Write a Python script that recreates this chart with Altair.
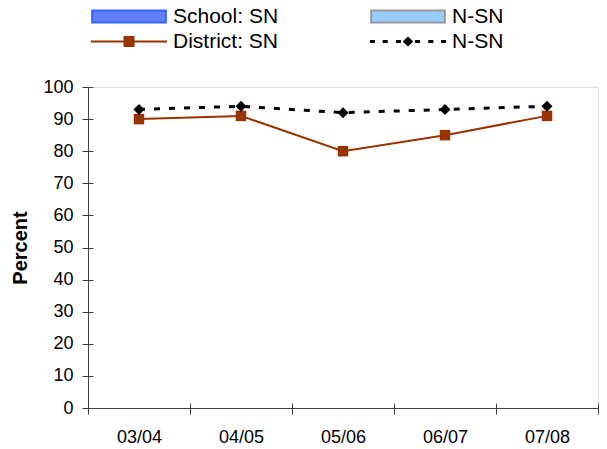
import altair as alt
import pandas as pd

years = ["03/04", "04/05", "05/06", "06/07", "07/08"]
district_sn = [90, 91, 80, 85, 91]
district_nsn = [93, 94, 92, 93, 94]
y_ticks = [0, 10, 20, 30, 40, 50, 60, 70, 80, 90, 100]
# legend order (filled column by column: left column, then right column)
legend_series = ["School: SN", "District: SN", "School: N-SN", "District: N-SN"]

df = pd.DataFrame({
    "year": years * 2,
    "series": ["District: SN"] * len(years) + ["District: N-SN"] * len(years),
    "value": district_sn + district_nsn,
})
legend_df = pd.DataFrame({"series": legend_series, "year": years[0], "value": 0})
base_df = pd.DataFrame({"value": [0]})

FONT = "Liberation Sans"
AXIS_COLOR = "#404040"

# legend symbol paths (unit box, scaled by sqrt(symbolSize)/2)
rect_path = "M-0.97,-0.158H0.97V0.158H-0.97Z"
line_sq_path = "M-1,-0.026H1V0.026H-1Z M-0.145,-0.145H0.145V0.145H-0.145Z"
dash_segs = [(-1, -0.868), (-0.666, -0.534), (-0.316, -0.184), (0.184, 0.316), (0.534, 0.666), (0.868, 1)]
dash_path = " ".join(f"M{a},-0.04H{b}V0.04H{a}Z" for a, b in dash_segs)
dash_path += " M0,-0.13L0.14,0L0,0.13L-0.14,0Z"

x_enc = alt.X(
    "year:N",
    sort=years,
    bandPosition=0.5,
    scale=alt.Scale(type="band", domain=years, paddingInner=0, paddingOuter=0),
    axis=alt.Axis(
        title=None, labelAngle=0, tickBand="extent", offset=-5, tickSize=11,
        domain=False, grid=False, labelPadding=14, labelFont=FONT, labelFontSize=18,
        labelColor="black", tickColor=AXIS_COLOR, tickWidth=1,
    ),
)
y_enc = alt.Y(
    "value:Q",
    scale=alt.Scale(domain=[0, 100], nice=False, zero=True),
    axis=alt.Axis(
        values=y_ticks, title="Percent", offset=-5, tickSize=11, domain=False,
        grid=False, labelPadding=9, labelFont=FONT, labelFontSize=18,
        labelColor="black", tickColor=AXIS_COLOR, tickWidth=1,
        titleFont=FONT, titleFontSize=20, titleFontWeight="bold",
        titleColor="black", titlePadding=12,
    ),
)

base = alt.Chart(df)

sn_line = base.transform_filter(alt.datum.series == "District: SN").mark_line(
    color="#993300", strokeWidth=2
).encode(x=x_enc, y=y_enc)
sn_pts = base.transform_filter(alt.datum.series == "District: SN").mark_point(
    shape="square", filled=True, size=110, color="#993300", opacity=1
).encode(x=x_enc, y=y_enc)
nsn_line = base.transform_filter(alt.datum.series == "District: N-SN").mark_line(
    color="black", strokeWidth=3, strokeDash=[6, 9]
).encode(x=x_enc, y=y_enc)
nsn_pts = base.transform_filter(alt.datum.series == "District: N-SN").mark_point(
    shape="diamond", filled=True, size=120, color="black", opacity=1
).encode(x=x_enc, y=y_enc)

# axis base lines (the ticks cross them)
x_domain = alt.Chart(base_df).mark_rule(color=AXIS_COLOR, strokeWidth=1, yOffset=0.5).encode(y=y_enc)
y_domain = alt.Chart(base_df).mark_rule(color=AXIS_COLOR, strokeWidth=1, xOffset=0.5).encode(
    x=alt.value(0)
)

legend_props = dict(
    title=None, orient="none", legendX=2, legendY=-83, columns=2,
    symbolSize=5776, symbolStrokeWidth=2, clipHeight=25, rowPadding=0,
    columnPadding=90, labelOffset=5, labelFont=FONT, labelFontSize=21,
    labelColor="black", symbolOpacity=1,
    labelExpr="datum.label == 'School: N-SN' || datum.label == 'District: N-SN' ? 'N-SN' : datum.label",
)

legend_layer = alt.Chart(legend_df).transform_filter("false").mark_point(
    filled=True, opacity=1
).encode(
    x=x_enc,
    y=y_enc,
    fill=alt.Fill(
        "series:N",
        scale=alt.Scale(domain=legend_series, range=["#6080FF", "#993300", "#99CCFF", "black"]),
        legend=alt.Legend(**legend_props),
    ),
    stroke=alt.Stroke(
        "series:N",
        scale=alt.Scale(domain=legend_series, range=["#3366FF", "transparent", "#999999", "transparent"]),
        legend=alt.Legend(**legend_props),
    ),
    shape=alt.Shape(
        "series:N",
        scale=alt.Scale(domain=legend_series, range=[rect_path, line_sq_path, rect_path, dash_path]),
        legend=alt.Legend(**legend_props),
    ),
)

chart = alt.layer(
    legend_layer, x_domain, y_domain, sn_line, nsn_line, sn_pts, nsn_pts
).properties(
    width=510,
    height=321,
    autosize=alt.AutoSizeParams(type="none"),
    padding={"left": 80, "top": 79, "right": 1, "bottom": 38},
).configure_view(stroke=None).configure(background="white")

chart.save("out.html", embed_options={"renderer": "svg", "actions": False})
